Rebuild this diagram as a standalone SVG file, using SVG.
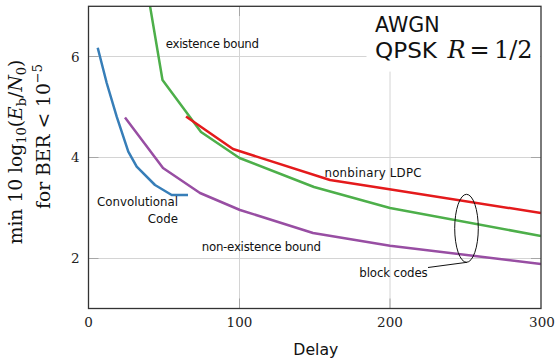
<svg xmlns="http://www.w3.org/2000/svg" width="556" height="359" viewBox="0 0 556 359">
  <style>
    .grid { stroke: #d4d4d4; stroke-width: 1; fill: none; }
    .tick { stroke: #a6a6a6; stroke-width: 1; fill: none; }
    .frame { stroke: #333333; stroke-width: 1.3; fill: none; }
    .curve { fill: none; stroke-width: 2.5; stroke-linejoin: round; stroke-linecap: butt; }
    .lbl { font-family: "DejaVu Sans", sans-serif; font-size: 11.8px; fill: #111111; }
    .num { font-family: "DejaVu Serif", serif; font-size: 13.5px; fill: #222222; text-anchor: middle; }
    .math { font-family: "DejaVu Serif", serif; font-size: 18.7px; fill: #111111; }
    .title { font-family: "DejaVu Sans", sans-serif; font-size: 20.6px; fill: #111111; }
    .tmath { font-family: "DejaVu Serif", serif; font-size: 24px; fill: #111111; }
  </style>
  <defs>
    <clipPath id="plotArea">
      <rect x="88.5" y="6" width="452.5" height="302.5"/>
    </clipPath>
  </defs>

  <rect width="556" height="359" fill="#ffffff"/>

  <!-- grid -->
  <g id="grid">
    <path class="grid" d="M239.5 6V308.5M390 6V308.5M88.5 56.5H541M88.5 157.5H541M88.5 258.5H541"/>
    <path class="tick" d="M239.5 298.5V308.5M390 298.5V308.5M239.5 6V16M390 6V16M88.5 56.5H98.5M88.5 157.5H98.5M88.5 258.5H98.5M531 56.5H541M531 157.5H541M531 258.5H541"/>
  </g>

  <!-- legend box in the upper right corner -->
  <g id="title">
    <rect x="366.5" y="6.6" width="174" height="65" fill="#ffffff"/>
    <text class="title" x="375" y="31.7">AWGN</text>
    <text class="title" x="375" y="58.3" textLength="62" lengthAdjust="spacingAndGlyphs">QPSK</text>
    <text class="tmath" x="447.5" y="58.3" font-style="italic">R</text>
    <text class="tmath" x="469.5" y="58.3" font-size="21">=</text>
    <text class="tmath" x="494" y="58.3" font-size="25">1/2</text>
  </g>

  <!-- data curves -->
  <g id="curves" clip-path="url(#plotArea)">
    <polyline id="existence" class="curve" stroke="#4daf4a" points="149,0 162.5,80 201,132 239.5,158 314,187 390,208 541,236"/>
    <polyline id="nonbinary-ldpc" class="curve" stroke="#e41a1c" points="186,116.5 233,149 330,180 391,189.5 541,213"/>
    <polyline id="non-existence" class="curve" stroke="#984ea3" points="125,117.5 163,168 200,193 240,210 313,233 390,245.7 541,264"/>
    <polyline id="convolutional" class="curve" stroke="#377eb8" points="97.7,47.7 106.7,83 116.7,116.7 128.3,151.7 136.7,166.7 155,185 171.7,195 188,195"/>
  </g>

  <!-- axis frame -->
  <rect class="frame" x="88.5" y="6.3" width="452.5" height="302.2"/>

  <!-- tick labels -->
  <g id="xticks">
    <text class="num" x="88.5" y="327">0</text>
    <text class="num" x="239.5" y="327">100</text>
    <text class="num" x="390" y="327">200</text>
    <text class="num" x="542" y="327">300</text>
  </g>
  <g id="yticks">
    <text class="num" x="75.3" y="61.7">6</text>
    <text class="num" x="75.3" y="162">4</text>
    <text class="num" x="75.3" y="263.2">2</text>
  </g>

  <!-- axis titles -->
  <text id="xlabel" x="315.8" y="355" font-family="DejaVu Sans, sans-serif" font-size="15.7" fill="#111111" text-anchor="middle">Delay</text>
  <g id="ylabel">
    <text class="math" transform="translate(22,152) rotate(-90)" text-anchor="middle">min 10 log<tspan dy="4" font-size="13">10</tspan><tspan dy="-4">(</tspan><tspan font-style="italic">E</tspan><tspan dy="4" font-size="13">b</tspan><tspan dy="-4">/</tspan><tspan font-style="italic">N</tspan><tspan dy="4" font-size="13">0</tspan><tspan dy="-4">)</tspan></text>
    <text class="math" transform="translate(50,136.5) rotate(-90)" text-anchor="middle">for BER &lt; 10<tspan dy="-8" font-size="13">−5</tspan></text>
  </g>

  <!-- curve annotations -->
  <g id="label-existence"><text class="lbl" x="165.7" y="48.3" textLength="93.3">existence bound</text></g>
  <g id="label-ldpc"><text class="lbl" x="324.5" y="176.7" textLength="97">nonbinary LDPC</text></g>
  <g id="label-nonexistence"><text class="lbl" x="201.7" y="251" textLength="119.3">non-existence bound</text></g>
  <g id="label-convolutional">
    <text class="lbl" x="178" y="206" text-anchor="end">Convolutional</text>
    <text class="lbl" x="178" y="222.7" text-anchor="end">Code</text>
  </g>
  <g id="label-block">
    <ellipse cx="466.5" cy="228.3" rx="11.8" ry="34" fill="none" stroke="#111111" stroke-width="1"/>
    <path d="M467 262.3L428 267.5" fill="none" stroke="#111111" stroke-width="1"/>
    <text class="lbl" x="359.3" y="276.7" textLength="68.4">block codes</text>
  </g>
</svg>
